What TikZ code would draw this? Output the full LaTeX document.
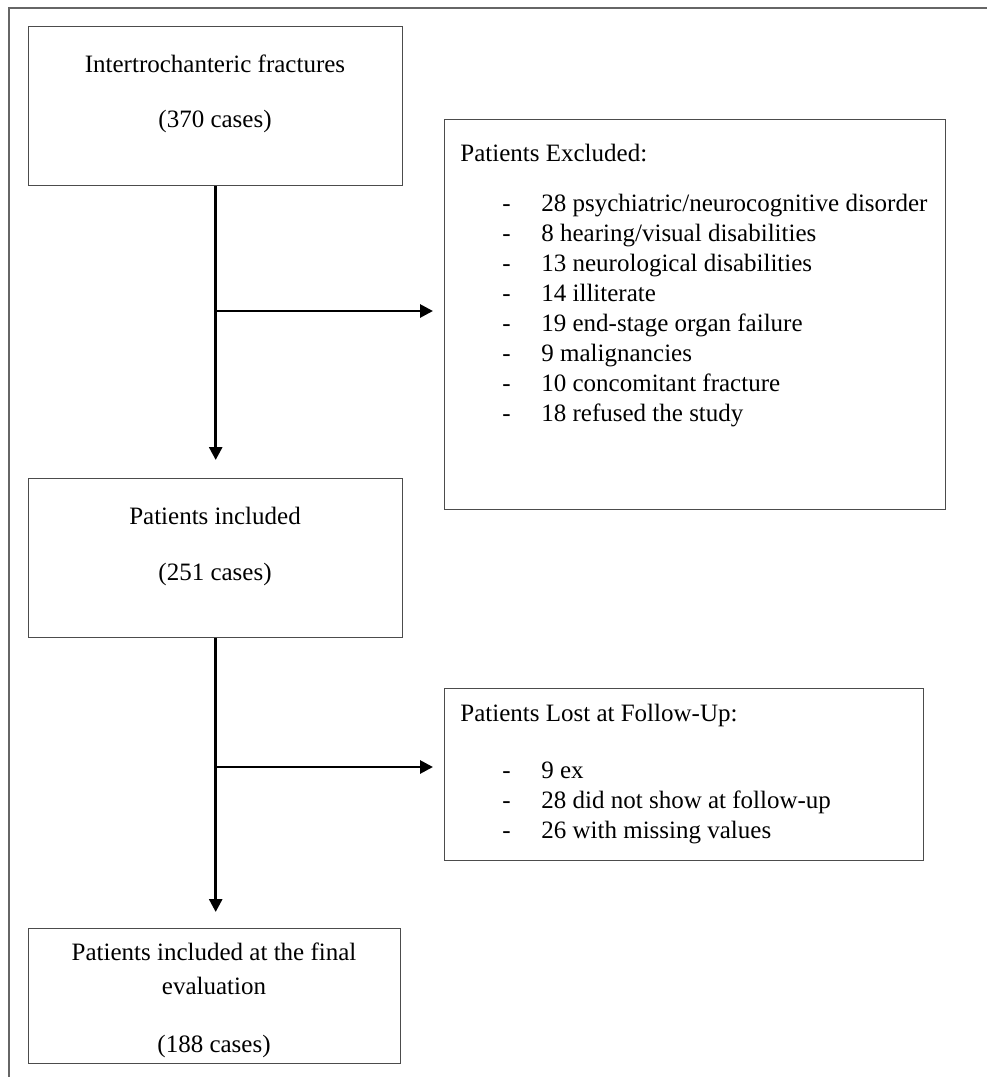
\documentclass[tikz,border=0pt]{standalone}
\usepackage{fontspec}
\setmainfont{Liberation Serif}
\usepackage{tikz}
\usetikzlibrary{arrows.meta}

\begin{document}
\begin{tikzpicture}
[x=0.5pt,y=-0.5pt,
 box/.style={draw=black!70,line width=0.7pt,inner sep=0pt,anchor=north west},
 flow/.style={line width=1.4pt,-{Triangle[length=6.5pt,width=6.5pt]}},
 txt/.style={inner sep=0pt,font=\fontsize{12.5}{15}\selectfont}]
\useasboundingbox (0,0) rectangle (987,1077);
\draw[black!60,line width=1pt] (9,1077) -- (9,8) -- (987,8);

\node[box,minimum width=187pt,minimum height=79.5pt] (fract) at (28,26) {};
\node[box,minimum width=187pt,minimum height=79.5pt] (incl) at (28,478) {};
\node[box,minimum width=186pt,minimum height=67.5pt] (final) at (28,928) {};
\node[box,minimum width=250.5pt,minimum height=195pt] (excl) at (444,119) {};
\node[box,minimum width=239.5pt,minimum height=86pt] (lost) at (444,688) {};

\node[txt,anchor=base] (fractA) at (215,72) {Intertrochanteric fractures};
\node[txt,anchor=base] (fractB) at (215,127) {(370 cases)};
\node[txt,anchor=base] (inclA) at (215,524) {Patients included};
\node[txt,anchor=base] (inclB) at (215,580) {(251 cases)};
\node[txt,anchor=base] (finalA) at (214,960) {Patients included at the final};
\node[txt,anchor=base] (finalB) at (214,994) {evaluation};
\node[txt,anchor=base] (finalC) at (214,1052) {(188 cases)};

\node[txt,anchor=base west] (exclT) at (460,161) {Patients Excluded:};
\node[txt,anchor=base west] (exclL) at (502,211) {\begin{tabular}[t]{@{}p{19.5pt}@{}l@{}}
- & 28 psychiatric/neurocognitive disorder\\
- & 8 hearing/visual disabilities\\
- & 13 neurological disabilities\\
- & 14 illiterate\\
- & 19 end-stage organ failure\\
- & 9 malignancies\\
- & 10 concomitant fracture\\
- & 18 refused the study
\end{tabular}};

\node[txt,anchor=base west] (lostT) at (460,721) {Patients Lost at Follow-Up:};
\node[txt,anchor=base west] (lostL) at (502,778) {\begin{tabular}[t]{@{}p{19.5pt}@{}l@{}}
- & 9 ex\\
- & 28 did not show at follow-up\\
- & 26 with missing values
\end{tabular}};

\coordinate (split1) at (215,311);
\coordinate (split2) at (215,767);
\draw[flow,shorten >=9pt] (fract.south) -- (incl.north);
\draw[flow,shorten >=5.5pt] (split1) -- (split1 -| excl.west);
\draw[flow,shorten >=8pt] (incl.south) -- (incl.south |- final.north);
\draw[flow,shorten >=5.5pt] (split2) -- (split2 -| lost.west);

\end{tikzpicture}
\end{document}
